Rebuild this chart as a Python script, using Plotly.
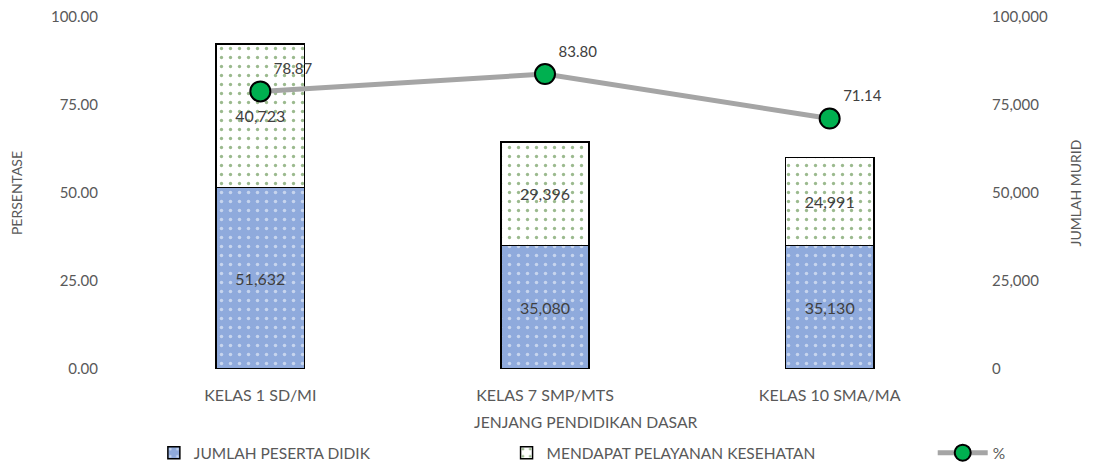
import plotly.graph_objects as go

kategori = ["KELAS 1 SD/MI", "KELAS 7 SMP/MTS", "KELAS 10 SMA/MA"]
jumlah_peserta = [51632, 35080, 35130]
mendapat_pelayanan = [40723, 29396, 24991]
persen = [78.87, 83.80, 71.14]

font_teks = "Lato, Liberation Sans, sans-serif"
abu = "#595959"

fig = go.Figure()

# batang di sumbu kanan (jumlah murid), garis di sumbu kiri (persen) supaya garis di atas
fig.add_trace(go.Bar(
    x=kategori, y=jumlah_peserta, name="JUMLAH PESERTA DIDIK", yaxis="y",
    width=0.31,
    marker=dict(color="#8FAADC", line=dict(color="black", width=1.5),
                pattern=dict(shape=".", fgcolor="white", bgcolor="#8FAADC",
                             size=9, solidity=0.12)),
    text=[f"{v:,}" for v in jumlah_peserta], textposition="inside",
    insidetextanchor="middle", textfont=dict(color="#404040", size=16),
    legend="legend", showlegend=True,
))
fig.add_trace(go.Bar(
    x=kategori, y=mendapat_pelayanan, name="MENDAPAT PELAYANAN KESEHATAN", yaxis="y",
    width=0.31,
    marker=dict(color="white", line=dict(color="black", width=1.5),
                pattern=dict(shape=".", fgcolor="#38761D", bgcolor="white",
                             size=9, solidity=0.11)),
    text=[f"{v:,}" for v in mendapat_pelayanan], textposition="inside",
    insidetextanchor="middle", textfont=dict(color="#404040", size=16),
    legend="legend2", showlegend=True,
))
fig.add_trace(go.Scatter(
    x=kategori, y=persen, name="%", mode="lines+markers+text", yaxis="y2",
    line=dict(color="#A5A5A5", width=5),
    marker=dict(color="#00B050", size=20, line=dict(color="black", width=2)),
    text=[f"{v:.2f}" for v in persen], textposition="top right",
    textfont=dict(color="#404040", size=15),
    legend="legend3", showlegend=True,
))

leg = dict(orientation="h", yanchor="middle", y=-0.239, xanchor="left",
           font=dict(size=15.5, color=abu, family=font_teks), bgcolor="rgba(0,0,0,0)")

fig.update_layout(
    width=1093, height=465,
    margin=dict(l=110, r=129, t=9, b=104, autoexpand=False),
    paper_bgcolor="white", plot_bgcolor="white",
    barmode="stack", bargap=0.69, showlegend=True,
    font=dict(family=font_teks, size=15, color=abu),
    xaxis=dict(showgrid=False, showline=False, ticks="outside", ticklen=12,
               tickcolor="rgba(0,0,0,0)", tickfont=dict(size=16)),
    yaxis=dict(title=dict(text="JUMLAH MURID", font=dict(size=14), standoff=24),
               range=[0, 100000], tickvals=[0, 25000, 50000, 75000, 100000],
               tickformat=",", side="right", ticks="outside", ticklen=16,
               tickcolor="rgba(0,0,0,0)", ticklabeloverflow="allow",
               showgrid=False, zeroline=False, showline=False, tickfont=dict(size=15)),
    yaxis2=dict(title=dict(text="PERSENTASE", font=dict(size=14), standoff=36),
                range=[0, 100], tickvals=[0, 25, 50, 75, 100], tickformat=".2f",
                overlaying="y", side="left", ticks="outside", ticklen=16,
                tickcolor="rgba(0,0,0,0)", ticklabeloverflow="allow",
                showgrid=False, zeroline=False, showline=False, tickfont=dict(size=15)),
    annotations=[dict(text="JENJANG PENDIDIKAN DASAR", xref="paper", yref="paper",
                      x=0.547, y=-0.15, xanchor="center", yanchor="middle",
                      showarrow=False, font=dict(size=15.7, color=abu))],
    legend=dict(leg, x=0.042),
    legend2=dict(leg, x=0.455),
    legend3=dict(leg, x=0.954, itemwidth=50),
)

fig.write_html("out.html")
